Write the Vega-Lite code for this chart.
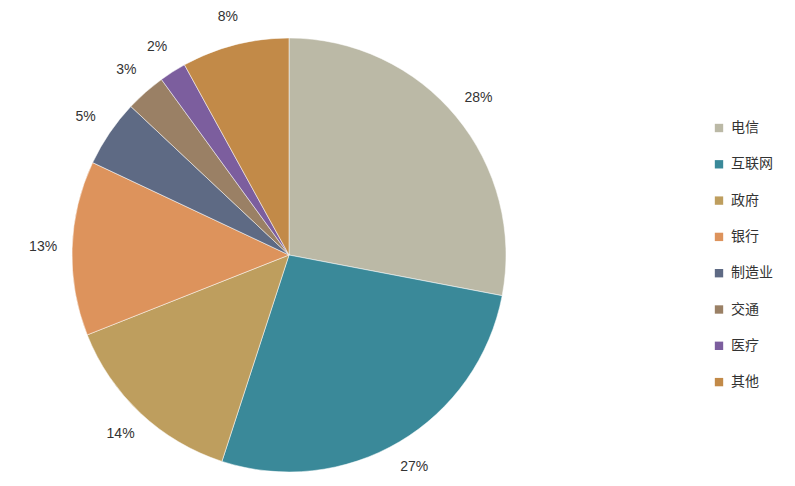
{
  "$schema": "https://vega.github.io/schema/vega-lite/v6.json",
  "width": 578,
  "height": 462,
  "autosize": "none",
  "padding": {"left": 0, "top": 24, "right": 217, "bottom": 0},
  "background": "white",
  "config": {"view": {"stroke": null}, "font": "Noto Sans CJK SC"},
  "data": {"values": [
    {"category": "电信", "value": 28, "label": "28%", "order": 1},
    {"category": "互联网", "value": 27, "label": "27%", "order": 2},
    {"category": "政府", "value": 14, "label": "14%", "order": 3},
    {"category": "银行", "value": 13, "label": "13%", "order": 4},
    {"category": "制造业", "value": 5, "label": "5%", "order": 5},
    {"category": "交通", "value": 3, "label": "3%", "order": 6},
    {"category": "医疗", "value": 2, "label": "2%", "order": 7},
    {"category": "其他", "value": 8, "label": "8%", "order": 8}
  ]},
  "encoding": {
    "theta": {"field": "value", "type": "quantitative", "stack": true},
    "order": {"field": "order", "type": "quantitative"},
    "color": {
      "field": "category", "type": "nominal",
      "sort": ["电信", "互联网", "政府", "银行", "制造业", "交通", "医疗", "其他"],
      "scale": {
        "domain": ["电信", "互联网", "政府", "银行", "制造业", "交通", "医疗", "其他"],
        "range": ["#BBB9A6", "#3A8999", "#BE9E5E", "#DD935C", "#5E6A84", "#9A8065", "#7C5E9E", "#C28A48"]
      },
      "legend": {
        "title": null,
        "orient": "none",
        "legendX": 712,
        "legendY": 97,
        "symbolType": "square",
        "symbolSize": 70,
        "symbolStrokeWidth": 0,
        "labelFontSize": 14,
        "labelColor": "#333333",
        "labelFont": "Noto Sans CJK SC",
        "rowPadding": 22.3,
        "labelOffset": 5
      }
    }
  },
  "layer": [
    {"mark": {"type": "arc", "outerRadius": 217, "stroke": "#ffffff", "strokeWidth": 0.5}},
    {
      "mark": {"type": "text", "radius": 246, "fontSize": 14, "fill": "#333333", "font": "Liberation Sans"},
      "encoding": {"text": {"field": "label", "type": "nominal"}}
    }
  ]
}
